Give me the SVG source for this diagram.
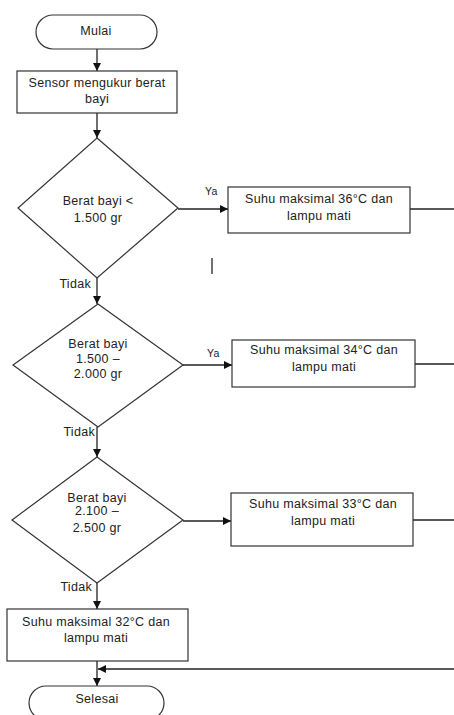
<svg xmlns="http://www.w3.org/2000/svg" width="454" height="715" viewBox="0 0 454 715">
<style>
.s{fill:#fff;stroke:#333;stroke-width:1.2}
.c{fill:none;stroke:#222;stroke-width:1.3}
text{font-family:"Liberation Sans",Arial,sans-serif;font-size:12.5px;fill:#222;letter-spacing:0.3px}
.m{text-anchor:middle}
.e{text-anchor:end}
.sm{font-size:10.5px}
</style>
<defs>
<marker id="a" markerUnits="userSpaceOnUse" markerWidth="8" markerHeight="8" refX="8" refY="4" orient="auto">
<path d="M0,0 L8,4 L0,8 z" fill="#111"/>
</marker>
</defs>
<rect width="454" height="715" fill="#fff"/>
<g id="connectors">
<line class="c" x1="97" y1="49" x2="97" y2="71" marker-end="url(#a)"/>
<line class="c" x1="97" y1="113" x2="97" y2="138" marker-end="url(#a)"/>
<line class="c" x1="178" y1="209" x2="228" y2="209" marker-end="url(#a)"/>
<line class="c" x1="410" y1="209" x2="454" y2="209"/>
<line class="c" x1="97" y1="278" x2="97" y2="304" marker-end="url(#a)"/>
<line class="c" x1="183" y1="365" x2="232" y2="365" marker-end="url(#a)"/>
<line class="c" x1="415" y1="364" x2="454" y2="364"/>
<line class="c" x1="97" y1="427" x2="97" y2="457" marker-end="url(#a)"/>
<line class="c" x1="183" y1="521" x2="231" y2="521" marker-end="url(#a)"/>
<line class="c" x1="413" y1="520" x2="454" y2="520"/>
<line class="c" x1="97" y1="583" x2="97" y2="609" marker-end="url(#a)"/>
<line class="c" x1="97" y1="661" x2="97" y2="686" marker-end="url(#a)"/>
<line class="c" x1="454" y1="669" x2="98" y2="669" marker-end="url(#a)"/>
<text class="sm" x="205" y="195">Ya</text>
<text class="e" x="91" y="288">Tidak</text>
<text class="sm" x="207" y="357">Ya</text>
<text class="e" x="95" y="436">Tidak</text>
<text class="e" x="92" y="591">Tidak</text>
</g>
<line x1="212" y1="258" x2="212" y2="274" stroke="#111" stroke-width="1.2"/>
<g id="mulai">
<rect class="s" x="36" y="15" width="121" height="34" rx="17"/>
<text class="m" x="96" y="35">Mulai</text>
</g>
<g id="sensor">
<rect class="s" x="17" y="71" width="160" height="42"/>
<text class="m" x="97" y="87">Sensor mengukur berat</text>
<text class="m" x="97" y="103">bayi</text>
</g>
<g id="d1">
<polygon class="s" points="97,138 178,208 97,278 18,208"/>
<text class="m" x="98" y="205">Berat bayi &lt;</text>
<text class="m" x="98" y="222">1.500 gr</text>
</g>
<g id="b1">
<rect class="s" x="228" y="187" width="182" height="46"/>
<text class="m" x="319" y="203">Suhu maksimal 36°C dan</text>
<text class="m" x="319" y="220">lampu mati</text>
</g>
<g id="d2">
<polygon class="s" points="98,304 183,365 98,427 13,365"/>
<text class="m" x="98" y="348">Berat bayi</text>
<text class="m" x="98" y="363">1.500 –</text>
<text class="m" x="98" y="378">2.000 gr</text>
</g>
<g id="b2">
<rect class="s" x="232" y="340" width="183" height="47"/>
<text class="m" x="324" y="354">Suhu maksimal 34°C dan</text>
<text class="m" x="324" y="371">lampu mati</text>
</g>
<g id="d3">
<polygon class="s" points="97,457 183,520 97,583 12,520"/>
<text class="m" x="97" y="502">Berat bayi</text>
<text class="m" x="97" y="515">2.100 –</text>
<text class="m" x="97" y="532">2.500 gr</text>
</g>
<g id="b3">
<rect class="s" x="231" y="493" width="182" height="53"/>
<text class="m" x="323" y="508">Suhu maksimal 33°C dan</text>
<text class="m" x="323" y="525">lampu mati</text>
</g>
<g id="b4">
<rect class="s" x="7" y="609" width="181" height="52"/>
<text class="m" x="96" y="626">Suhu maksimal 32°C dan</text>
<text class="m" x="96" y="642">lampu mati</text>
</g>
<g id="selesai">
<rect class="s" x="29" y="686" width="135" height="34" rx="17"/>
<text class="m" x="97" y="703">Selesai</text>
</g>
</svg>
